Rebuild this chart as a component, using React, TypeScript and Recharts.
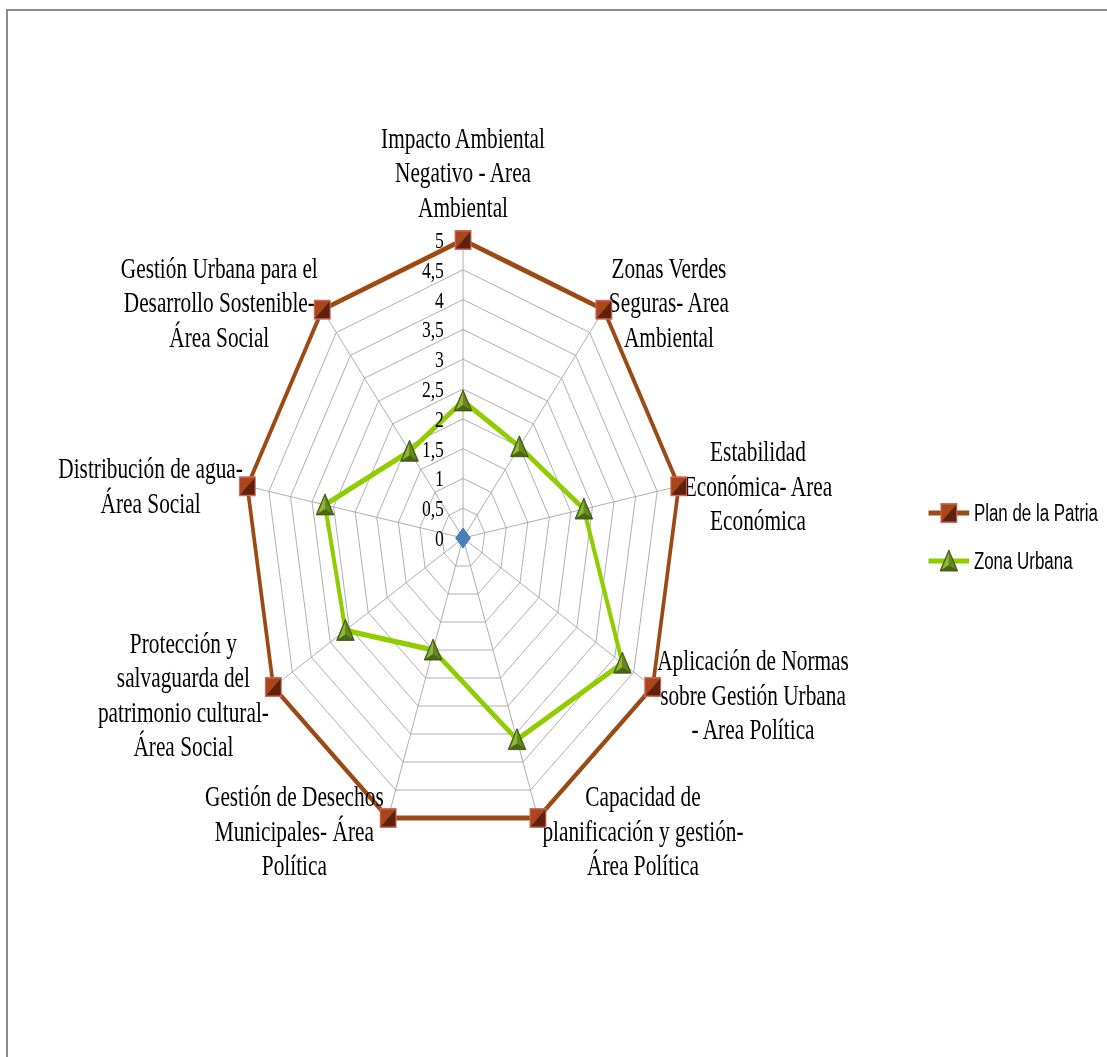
import React from 'react';
import { RadarChart, Radar, PolarGrid, PolarAngleAxis, PolarRadiusAxis, Legend } from 'recharts';

const categories = [
  'Impacto Ambiental\nNegativo - Area\nAmbiental',
  'Zonas Verdes\nSeguras- Area\nAmbiental',
  'Estabilidad\nEconómica- Area\nEconómica',
  'Aplicación de Normas\nsobre Gestión Urbana\n- Area Política',
  'Capacidad de\nplanificación y gestión-\nÁrea Política',
  'Gestión de Desechos\nMunicipales- Área\nPolítica',
  'Protección y\nsalvaguarda del\npatrimonio cultural-\nÁrea Social',
  'Distribución de agua-\nÁrea Social',
  'Gestión Urbana para el\nDesarrollo Sostenible-\nÁrea Social',
];
const planPatria = [5, 5, 5, 5, 5, 5, 5, 5, 5];
const zonaUrbana = [2.3, 2.0, 2.8, 4.2, 3.6, 2.0, 3.1, 3.2, 1.9];
const serie3 = [0, 0, 0, 0, 0, 0, 0, 0, 0];
const radiusTicks = [0, 0.5, 1, 1.5, 2, 2.5, 3, 3.5, 4, 4.5, 5];

const data = categories.map((c, i) => ({
  categoria: c,
  plan: planPatria[i],
  zona: zonaUrbana[i],
  serie3: serie3[i],
}));

// the reference picture is squashed horizontally, so the chart is drawn wide and scaled
const SX = 0.735;
const W = 1507;
const H = 1057;
const CX = 630;
const CY = 538;
const R = 298;

const LABEL_FONT = 29;
const LINE_H = 34.5;
const SERIF = '"Liberation Serif", "Times New Roman", serif';

let ctx: CanvasRenderingContext2D | null = null;
const measure = (t: string) => {
  if (!ctx) ctx = document.createElement('canvas').getContext('2d');
  if (!ctx) return t.length * LABEL_FONT * 0.45;
  ctx.font = `${LABEL_FONT}px "Liberation Serif"`;
  return ctx.measureText(t).width;
};

const AngleTick = (props: any) => {
  const { payload } = props;
  const idx = categories.indexOf(payload.value);
  const lines = String(payload.value).split('\n');
  const theta = ((idx * 360) / categories.length) * Math.PI / 180;
  const vx = CX + R * Math.sin(theta);
  const vy = CY - R * Math.cos(theta);
  const n = lines.length;
  let x = vx;
  let first: number;
  if (Math.abs(Math.sin(theta)) < 0.05) {
    first = vy - 23 - (n - 1) * LINE_H;
  } else {
    const blockW = Math.max(...lines.map(measure));
    x = vx + Math.sign(Math.sin(theta)) * (blockW / 2 + 6);
    const centerY = vy - Math.cos(theta) * 12 + 2;
    first = centerY - ((n - 1) / 2) * LINE_H + LABEL_FONT * 0.33;
  }
  return (
    <text x={x} y={first} textAnchor="middle" fontFamily={SERIF} fontSize={LABEL_FONT} fill="#000">
      {lines.map((l, i) => (
        <tspan key={i} x={x} y={first + i * LINE_H}>{l}</tspan>
      ))}
    </text>
  );
};

const RadiusTick = (props: any) => {
  const { x, y, payload } = props;
  return (
    <text x={x - 26} y={y} textAnchor="end" dominantBaseline="central" fontFamily={SERIF} fontSize={24} fill="#000">
      {String(payload.value).replace('.', ',')}
    </text>
  );
};

const SquareMark = ({ cx, cy }: { cx: number; cy: number }) => (
  <g>
    <rect x={cx - 11.5} y={cy - 10} width={23} height={20} fill="#d06a5c" />
    <polygon points={`${cx - 10},${cy - 8.5} ${cx + 10},${cy - 8.5} ${cx - 10},${cy + 8.5}`} fill="#a9461a" />
    <polygon points={`${cx + 10},${cy - 8.5} ${cx + 10},${cy + 8.5} ${cx - 10},${cy + 8.5}`} fill="#5e220c" />
  </g>
);

const TriangleMark = ({ cx, cy }: { cx: number; cy: number }) => (
  <g>
    <polygon points={`${cx},${cy - 11} ${cx + 12},${cy + 10} ${cx - 12},${cy + 10}`} fill="#4a6612" stroke="#3c520e" strokeWidth={1} />
    <polygon points={`${cx},${cy - 9} ${cx - 9.5},${cy + 8.5} ${cx},${cy + 4}`} fill="#8fb83a" />
    <polygon points={`${cx},${cy - 9} ${cx},${cy + 4} ${cx + 9.5},${cy + 8.5}`} fill="#66881c" />
  </g>
);

const DiamondMark = ({ cx, cy }: { cx: number; cy: number }) => (
  <polygon points={`${cx},${cy - 10} ${cx + 10},${cy} ${cx},${cy + 10} ${cx - 10},${cy}`} fill="#4a7ebb" />
);

const renderLegend = (props: any) => {
  const entries = (props.payload || []).filter((e: any) => e.type !== 'none' && e.value !== 'Serie3');
  return (
    <div>
      {entries.map((entry: any, i: number) => (
        <div key={i} style={{ display: 'flex', alignItems: 'center', height: 48 }}>
          <svg width={56} height={26}>
            <line x1={0} y1={13} x2={56} y2={13} stroke={entry.color} strokeWidth={5} />
            {entry.value === 'Plan de la Patria' ? <SquareMark cx={28} cy={13} /> : <TriangleMark cx={28} cy={13} />}
          </svg>
          <span style={{ marginLeft: 6, fontFamily: '"Liberation Sans", Arial, sans-serif', fontSize: 23, color: '#000' }}>
            {entry.value}
          </span>
        </div>
      ))}
    </div>
  );
};

export default function App() {
  return (
    <div style={{ position: 'fixed', left: 0, top: 0, width: 1107, height: 1057, overflow: 'hidden', background: '#fff' }}>
      <div
        style={{
          position: 'absolute', left: 6, top: 9, width: 1101, height: 1048, boxSizing: 'border-box',
          borderTop: '2px solid #8a8a8a', borderLeft: '2px solid #8a8a8a',
        }}
      />
      <div style={{ position: 'absolute', left: 0, top: 0, width: W, height: H, transform: `scaleX(${SX})`, transformOrigin: '0 0', fontFamily: SERIF }}>
        <RadarChart width={W} height={H} data={data} cx={CX} cy={CY} outerRadius={R} margin={{ top: 0, right: 0, bottom: 0, left: 0 }}>
          <PolarGrid gridType="polygon" stroke="#a3a3a3" strokeWidth={1} />
          <PolarAngleAxis dataKey="categoria" tick={AngleTick} tickLine={false} axisLine={false} />
          <PolarRadiusAxis angle={90} domain={[0, 5]} ticks={radiusTicks as any} tick={RadiusTick} axisLine={false} tickLine={false} type="number" />
          <Radar
            name="Plan de la Patria"
            dataKey="plan"
            stroke="#9c4a14"
            strokeWidth={5}
            fill="none"
            fillOpacity={0}
            isAnimationActive={false}
            dot={(p: any) => <SquareMark key={`p${p.index}`} cx={p.cx} cy={p.cy} />}
          />
          <Radar
            name="Zona Urbana"
            dataKey="zona"
            stroke="#8fcc00"
            strokeWidth={5.5}
            fill="none"
            fillOpacity={0}
            isAnimationActive={false}
            dot={(p: any) => <TriangleMark key={`z${p.index}`} cx={p.cx} cy={p.cy} />}
          />
          <Radar
            name="Serie3"
            dataKey="serie3"
            stroke="#4a7ebb"
            strokeWidth={2}
            fill="none"
            fillOpacity={0}
            legendType="none"
            isAnimationActive={false}
            dot={(p: any) => <DiamondMark key={`s${p.index}`} cx={p.cx} cy={p.cy} />}
          />
          <Legend content={renderLegend} wrapperStyle={{ left: 1263, top: 489, width: 300, bottom: 'auto', right: 'auto' }} />
        </RadarChart>
      </div>
    </div>
  );
}
